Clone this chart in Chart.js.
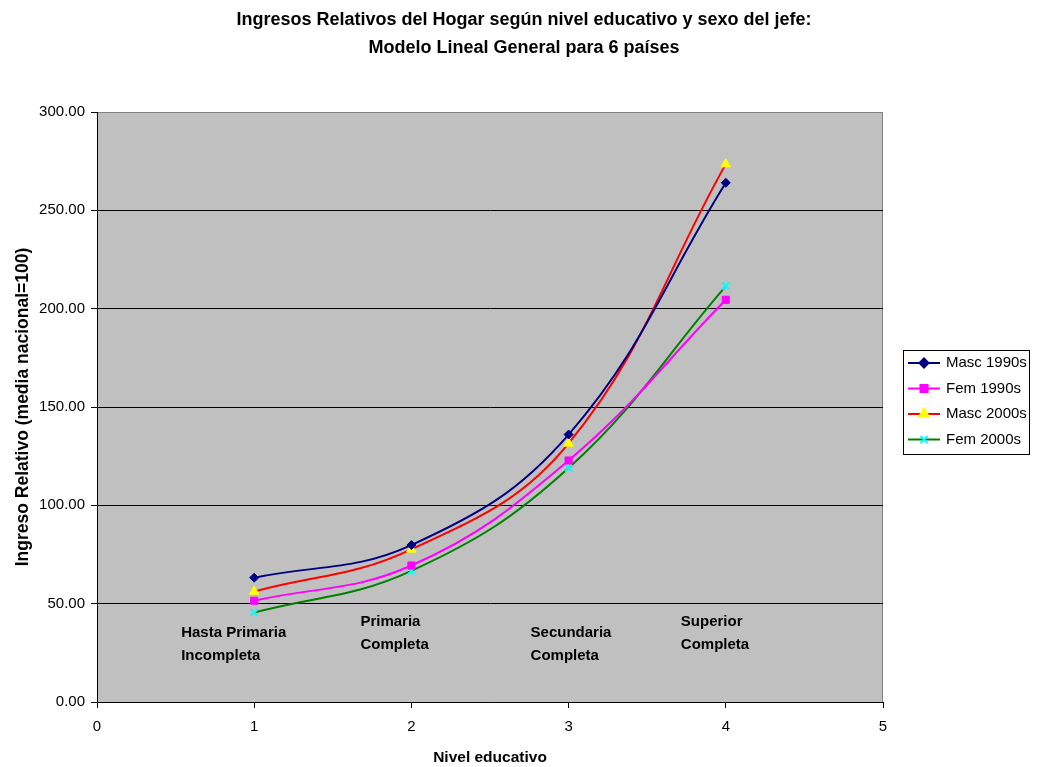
<!DOCTYPE html>
<html>
<head>
<meta charset="utf-8">
<script src="https://cdn.jsdelivr.net/npm/chart.js@4"></script>
<style>
  html, body { margin: 0; padding: 0; background: #fff; }
  #wrap { width: 1037px; height: 767px; }
</style>
</head>
<body>
<div id="wrap"><canvas id="chart"></canvas></div>
<script>
// niveles educativos (eje x) y nombres de categoría
const niveles = [1, 2, 3, 4];
const categorias = [
  ['Hasta Primaria', 'Incompleta'],
  ['Primaria', 'Completa'],
  ['Secundaria', 'Completa'],
  ['Superior', 'Completa']
];

// ingreso relativo (media nacional = 100)
const masc1990 = [63.2, 79.8, 136.0, 264.0];
const fem1990 = [51.5, 69.4, 122.8, 204.5];
const masc2000 = [56.2, 77.6, 131.5, 273.5];
const fem2000 = [45.5, 66.7, 119.0, 211.5];

const yTicks = [0, 50, 100, 150, 200, 250, 300];

const titulo = [
  'Ingresos Relativos del Hogar según nivel educativo y sexo del jefe:',
  'Modelo Lineal General para 6 países'
];

const FONT = '"Liberation Sans", Arial, sans-serif';
const toPoints = arr => arr.map((v, i) => ({ x: niveles[i], y: v }));

// gray plot background + border
const plotArea = {
  id: 'plotArea',
  beforeDraw(chart) {
    const { ctx, chartArea: a } = chart;
    ctx.save();
    ctx.fillStyle = '#C0C0C0';
    ctx.fillRect(a.left, a.top, a.right - a.left, a.bottom - a.top);
    ctx.strokeStyle = '#808080';
    ctx.lineWidth = 1;
    ctx.strokeRect(a.left + 0.5, a.top + 0.5, a.right - a.left - 1, a.bottom - a.top);
    ctx.restore();
  }
};

// chart title, centred on the whole picture
const pageTitle = {
  id: 'pageTitle',
  afterDraw(chart) {
    const { ctx } = chart;
    ctx.save();
    ctx.fillStyle = '#000';
    ctx.font = 'bold 18px ' + FONT;
    ctx.textAlign = 'center';
    ctx.textBaseline = 'middle';
    titulo.forEach((t, i) => ctx.fillText(t, 524, 20 + i * 28));
    ctx.restore();
  }
};

// category text boxes inside the plot
const labelPlace = [
  { dx: -73, y: 35 },
  { dx: -51, y: 41 },
  { dx: -38, y: 35 },
  { dx: -45, y: 41 }
];
const categoryText = {
  id: 'categoryText',
  afterDatasetsDraw(chart) {
    const { ctx, scales } = chart;
    ctx.save();
    ctx.fillStyle = '#000';
    ctx.font = 'bold 15px ' + FONT;
    ctx.textAlign = 'left';
    ctx.textBaseline = 'middle';
    categorias.forEach((lines, i) => {
      const p = labelPlace[i];
      const x = scales.x.getPixelForValue(niveles[i]) + p.dx;
      const y = scales.y.getPixelForValue(p.y);
      lines.forEach((t, j) => ctx.fillText(t, x, y + j * 23));
    });
    ctx.restore();
  }
};

// Excel-style legend: boxed, line + marker
const boxLegend = {
  id: 'boxLegend',
  afterDraw(chart) {
    const { ctx } = chart;
    const left = 903, top = 350, w = 126, h = 104;
    ctx.save();
    ctx.fillStyle = '#fff';
    ctx.fillRect(left, top, w, h);
    ctx.strokeStyle = '#000';
    ctx.lineWidth = 1;
    ctx.strokeRect(left + 0.5, top + 0.5, w, h);
    ctx.font = '15px ' + FONT;
    ctx.textBaseline = 'middle';
    chart.data.datasets.forEach((ds, i) => {
      const y = top + 13 + i * 25.5;
      ctx.strokeStyle = ds.borderColor;
      ctx.lineWidth = 2;
      ctx.beginPath();
      ctx.moveTo(left + 5, y);
      ctx.lineTo(left + 37, y);
      ctx.stroke();
      ctx.fillStyle = ds.pointBackgroundColor;
      ctx.strokeStyle = ds.pointBorderColor;
      Chart.helpers.drawPoint(ctx, {
        pointStyle: ds.pointStyle,
        radius: ds.pointRadius,
        rotation: 0,
        borderWidth: ds.pointBorderWidth
      }, left + 21, y);
      ctx.fillStyle = '#000';
      ctx.fillText(ds.label, left + 43, y);
    });
    ctx.restore();
  }
};

const serie = (label, data, line, mark, style, radius) => ({
  label: label,
  data: toPoints(data),
  borderColor: line,
  borderWidth: 2,
  pointStyle: style,
  pointRadius: radius,
  pointBackgroundColor: mark,
  pointBorderColor: mark,
  pointBorderWidth: style === 'crossRot' ? 2 : 1,
  tension: 0.4,
  fill: false
});

new Chart(document.getElementById('chart'), {
  type: 'line',
  data: {
    datasets: [
      serie('Masc 1990s', masc1990, '#000080', '#000080', 'rectRot', 4.5),
      serie('Fem 1990s', fem1990, '#FF00FF', '#FF00FF', 'rect', 5),
      serie('Masc 2000s', masc2000, '#FF0000', '#FFFF00', 'triangle', 5.5),
      serie('Fem 2000s', fem2000, '#008000', '#00FFFF', 'crossRot', 5)
    ]
  },
  options: {
    responsive: true,
    maintainAspectRatio: false,
    animation: false,
    layout: { padding: { top: 112, left: 0, right: 154, bottom: 0 } },
    plugins: {
      legend: { display: false },
      tooltip: { enabled: false },
      title: { display: false }
    },
    scales: {
      x: {
        type: 'linear',
        min: 0,
        max: 5,
        afterFit(scale) { scale.height = 65; },
        ticks: {
          stepSize: 1,
          color: '#000',
          padding: 10,
          font: { family: FONT, size: 15 }
        },
        grid: { drawOnChartArea: false, color: '#000', tickLength: 6 },
        border: { color: '#000' },
        title: {
          display: true,
          text: 'Nivel educativo',
          color: '#000',
          font: { family: FONT, size: 15.5, weight: 'bold' },
          padding: { top: 13, bottom: 0 }
        }
      },
      y: {
        min: 0,
        max: 300,
        afterFit(scale) { scale.width = 97; },
        afterBuildTicks(scale) {
          scale.ticks = yTicks.map(v => ({ value: v }));
        },
        ticks: {
          color: '#000',
          padding: 6,
          font: { family: FONT, size: 15 },
          callback: v => v.toFixed(2)
        },
        grid: {
          color: ctx => (ctx.tick && ctx.tick.value === 300 ? '#808080' : '#000'),
          tickColor: '#000',
          tickLength: 6
        },
        border: { color: '#000' },
        title: {
          display: true,
          text: 'Ingreso Relativo (media nacional=100)',
          color: '#000',
          font: { family: FONT, size: 17.5, weight: 'bold' },
          padding: { top: 13, bottom: 4 }
        }
      }
    }
  },
  plugins: [plotArea, pageTitle, categoryText, boxLegend]
});
</script>
</body>
</html>
